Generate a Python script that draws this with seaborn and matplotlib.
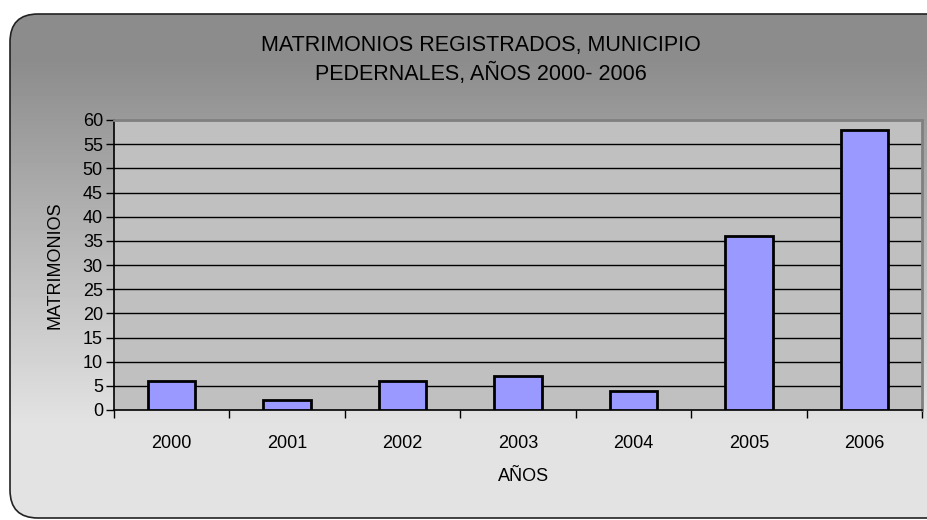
import numpy as np
import pandas as pd
import matplotlib
matplotlib.use("Agg")
import matplotlib.pyplot as plt
import seaborn as sns
from matplotlib.patches import FancyBboxPatch

years = ["2000", "2001", "2002", "2003", "2004", "2005", "2006"]
matrimonios = [6, 2, 6, 7, 4, 36, 58]
y_ticks = list(range(0, 61, 5))

sns.set_theme(style="white")
plt.rcParams["font.family"] = ["Liberation Sans", "DejaVu Sans"]
plt.rcParams["text.color"] = "black"
plt.rcParams["axes.labelcolor"] = "black"
plt.rcParams["xtick.color"] = "black"
plt.rcParams["ytick.color"] = "black"

W, H = 928, 520
fig = plt.figure(figsize=(W / 100, H / 100), dpi=100)
fig.patch.set_facecolor("white")

# background with rounded border and vertical gradient
bg = fig.add_axes([0, 0, 1, 1], zorder=-10)
bg.set_xlim(0, W)
bg.set_ylim(H, 0)
bg.axis("off")
yy = np.arange(H)
t = np.clip((yy - 60) / (430 - 60), 0, 1)
vals = (140 + (228 - 140) * t) / 255.0
grad = np.repeat(vals[:, None], 2, axis=1)
im = bg.imshow(grad, cmap="gray", vmin=0, vmax=1, extent=[0, W, H, 0], aspect="auto")
box = FancyBboxPatch((10, 14), W + 20, 504, boxstyle="round,pad=0,rounding_size=28",
                     facecolor="none", edgecolor="#222222", linewidth=1.2)
bg.add_patch(box)
im.set_clip_path(box)

df = pd.DataFrame({"year": years, "value": matrimonios})

ax = fig.add_axes([114 / W, 1 - 410 / H, (922 - 114) / W, (410 - 120) / H])
ax.set_facecolor("#C0C0C0")
sns.barplot(data=df, x="year", y="value", color="#9999FF", saturation=1,
            edgecolor="black", linewidth=2, width=0.41, ax=ax, zorder=3)
ax.set_xlim(-0.5, len(years) - 0.5)
ax.set_ylim(0, 60)
ax.set_yticks(y_ticks)
ax.set_yticklabels([str(v) for v in y_ticks])
for v in y_ticks[1:-1]:
    ax.axhline(v, color="black", linewidth=1, zorder=1)

ax.set_xticks(np.arange(-0.5, len(years), 1.0))
ax.set_xticklabels([])
ax.set_xticks(np.arange(len(years)), minor=True)
ax.set_xticklabels(years, minor=True)
ax.tick_params(axis="x", which="major", direction="out", length=6, width=1, color="black", bottom=True)
ax.tick_params(axis="x", which="minor", length=0, pad=18, labelsize=13, labelcolor="black")
ax.tick_params(axis="y", direction="out", length=6, width=1, color="black", left=True,
               labelsize=13, pad=2, labelcolor="black")

for s in ["left", "bottom"]:
    ax.spines[s].set_color("black")
    ax.spines[s].set_linewidth(1.2)
for s in ["top", "right"]:
    ax.spines[s].set_color("#808080")
    ax.spines[s].set_linewidth(2)

ax.set_xlabel("AÑOS", fontsize=13, labelpad=14, color="black")
ax.xaxis.set_label_coords((524 - 114) / (922 - 114), -0.2, transform=ax.transAxes)
ax.set_ylabel("MATRIMONIOS", fontsize=13, labelpad=14, color="black")

fig.text(481 / W, 1 - 60 / H, "MATRIMONIOS REGISTRADOS, MUNICIPIO\nPEDERNALES, AÑOS 2000- 2006",
         ha="center", va="center", fontsize=15.5, linespacing=1.4, color="black")

fig.savefig("out.png", dpi=100)
